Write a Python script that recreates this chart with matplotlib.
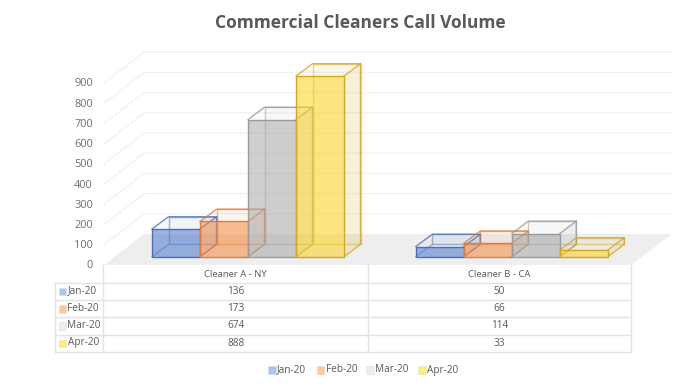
import numpy as np
import matplotlib
matplotlib.use('Agg')
import matplotlib.pyplot as plt
from matplotlib.patches import Rectangle

#Datos
cleaners = ['Cleaner A - NY', 'Cleaner B - CA']
months = ['Jan-20', 'Feb-20', 'Mar-20', 'Apr-20']
jan = [136, 50]
feb = [173, 66]
mar = [674, 114]
apr = [888, 33]
yticks = [0, 100, 200, 300, 400, 500, 600, 700, 800, 900]

#Estilos
edge_col = ['#4c70b8', '#e27a3c', '#9a9a9a', '#d2a821']
face_col = ['#4a78cc', '#f58a3c', '#a8a8a8', '#ffd21e']
swatch_col = ['#a9c5f2', '#ffc898', '#eeeeee', '#fff06a']
text_col = '#595959'
line_col = '#e3e3e3'
plt.rcParams['font.family'] = ['Open Sans', 'DejaVu Sans']

W, H = 700, 391
base_px = 256.7    # pixel de y=0 en el frente de las barras
px_unit = 0.2035   # pixeles por unidad
wall_unit = 0.202
dx, dy = 16.5, 12.3
group_x = [152.0, 415.8]
bar_w = 48.0

fig = plt.figure(figsize=(W/100, H/100), dpi=100)

#Ejes de valores: x en pixeles, y en unidades de llamadas
ax = fig.add_axes([0, 0, 1, 1])
ax.set_xlim(0, W)
ax.set_ylim((base_px - H)/px_unit, base_px/px_unit)
ax.axis('off')

def vy(p):
    return (base_px - p)/px_unit

def wall(v, p0):
    return vy(p0 - wall_unit*v)

#Suelo y paredes
ax.fill([104, 631, 672, 144], [vy(265), vy(265), vy(234), vy(234)],
        color='#eeeeee', lw=0, zorder=1)
for v in yticks[1:]:
    ax.plot([104, 144, 672], [wall(v, 265), wall(v, 234), wall(v, 234)],
            color='#f2f2f2', lw=1, zorder=1)

#Barras
ddy = dy/px_unit
series = [jan, feb, mar, apr]
for g in range(len(cleaners)):
    for s in range(len(months)):
        v = series[s][g]
        x0 = group_x[g] + s*bar_w
        x1 = x0 + bar_w
        z = 2 + s
        ec = edge_col[s]
        fc = face_col[s]
        # cara trasera y aristas ocultas
        ax.bar(x0 + dx, v, bar_w, bottom=ddy, align='edge', color=ec, alpha=0.04,
               lw=0, zorder=z)
        ax.bar(x0 + dx, v, bar_w, bottom=ddy, align='edge', fill=False,
               edgecolor=ec, alpha=0.5, lw=1, zorder=z)
        ax.plot([x0, x0 + dx], [0, ddy], color=ec, alpha=0.5, lw=1, zorder=z)
        # cara lateral y superior
        ax.fill([x1, x1 + dx, x1 + dx, x1], [0, ddy, v + ddy, v],
                color=ec, alpha=0.13, lw=0, zorder=z)
        ax.fill([x0, x0 + dx, x1 + dx, x1], [v, v + ddy, v + ddy, v],
                color=ec, alpha=0.04, lw=0, zorder=z)
        ax.plot([x0, x0 + dx, x1 + dx, x1], [v, v + ddy, v + ddy, v],
                color=ec, alpha=0.8, lw=1, zorder=z)
        ax.plot([x1, x1 + dx, x1 + dx], [0, ddy, v + ddy],
                color=ec, alpha=0.8, lw=1, zorder=z)
        # cara frontal
        ax.bar(x0, v, bar_w, align='edge', color=fc, alpha=0.55, lw=0, zorder=z + 0.5)
        ax.bar(x0, v, bar_w, align='edge', fill=False, edgecolor=ec, lw=1,
               zorder=z + 0.5)

#Capa de textos y tabla en pixeles
lay = fig.add_axes([0, 0, 1, 1])
lay.set_xlim(0, W)
lay.set_ylim(H, 0)
lay.axis('off')
lay.patch.set_alpha(0)

lay.text(360.5, 23, 'Commercial Cleaners Call Volume', ha='center', va='center',
         fontsize=12.5, fontweight='bold', color=text_col)

for v in yticks:
    lay.text(93, 265.8 - wall_unit*v, str(v), ha='right', va='center',
             fontsize=7.9, color='#6e6e6e')

#Tabla
rows_y = [265, 282.7, 300.3, 317.3, 334.7, 352.3]
col_x = [55.3, 103.3, 368, 630.7]
lay.plot([col_x[1], col_x[1]], [rows_y[0], rows_y[-1]], color=line_col, lw=1)
lay.plot([col_x[2], col_x[2]], [rows_y[0], rows_y[-1]], color=line_col, lw=1)
lay.plot([col_x[3], col_x[3]], [rows_y[0], rows_y[-1]], color=line_col, lw=1)
lay.plot([col_x[0], col_x[0]], [rows_y[1], rows_y[-1]], color=line_col, lw=1)
for i, yy in enumerate(rows_y[1:]):
    lay.plot([col_x[0], col_x[3]], [yy, yy], color=line_col, lw=1)

for g in range(len(cleaners)):
    xc = (col_x[g + 1] + col_x[g + 2])/2
    lay.text(xc, 274.5, cleaners[g], ha='center', va='center', fontsize=6.8, color=text_col)
    for s in range(len(months)):
        yc = (rows_y[s + 1] + rows_y[s + 2])/2
        lay.text(xc, yc, str(series[s][g]), ha='center', va='center',
                 fontsize=7.2, color=text_col)

for s in range(len(months)):
    yc = (rows_y[s + 1] + rows_y[s + 2])/2
    lay.add_patch(Rectangle((58.5, yc - 3.7), 7.5, 7.5, facecolor=swatch_col[s],
                            edgecolor='#dddddd', lw=0.4))
    lay.text(67.5, yc - 0.5, months[s], ha='left', va='center', fontsize=7.2, color=text_col)

#Leyenda
leg_x = [268, 316.7, 366, 418]
for s in range(len(months)):
    lay.add_patch(Rectangle((leg_x[s], 366.2), 7.5, 7.5, facecolor=swatch_col[s],
                            edgecolor='#dddddd', lw=0.4))
    lay.text(leg_x[s] + 9, 370, months[s], ha='left', va='center', fontsize=7.2, color=text_col)

fig.savefig('out.png', dpi=100)
